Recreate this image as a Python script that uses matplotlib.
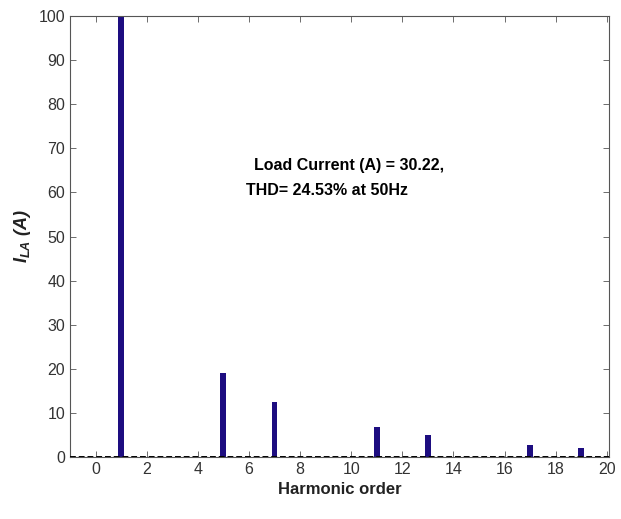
import matplotlib.pyplot as plt

orders = [1, 5, 7, 11, 13, 17, 19]
magnitudes = [100, 19, 12.5, 6.7, 5.0, 2.8, 2.1]
xticks = list(range(0, 21, 2))
yticks = list(range(0, 101, 10))

plt.rcParams['font.family'] = ['Liberation Sans', 'DejaVu Sans']
plt.rcParams['mathtext.fontset'] = 'custom'
plt.rcParams['mathtext.it'] = 'Liberation Sans:italic:bold'
plt.rcParams['mathtext.rm'] = 'Liberation Sans:italic:bold'

fig = plt.figure(figsize=(6.21, 5.19), dpi=100)
ax = fig.add_axes([0.1127, 0.1195, 0.8685, 0.8495])

ax.bar(orders, magnitudes, width=0.23, color='#1d0d80', zorder=2)
ax.axhline(0, color='black', linestyle=(0, (3, 1.5)), linewidth=1.4, zorder=3)

ax.set_xlim(-1, 20.1)
ax.set_ylim(0, 100)
ax.set_xticks(xticks)
ax.set_yticks(yticks)
ax.tick_params(direction='in', top=True, right=True, length=4, width=0.6,
               labelsize=11.5, labelcolor='#333333', color='#555555')
for s in ax.spines.values():
    s.set_color('#555555')
    s.set_linewidth(0.8)

ax.set_xlabel('Harmonic order', fontsize=12, fontweight='bold', color='#222222')
ax.set_ylabel(r'$I_{LA}$ (A)', fontsize=13, fontweight='bold',
              fontstyle='italic', color='#222222')

ax.text(6.2, 66.2, 'Load Current (A) = 30.22,', fontsize=11.5, fontweight='bold', va='center')
ax.text(5.9, 60.5, 'THD= 24.53% at 50Hz', fontsize=11.5, fontweight='bold', va='center')

fig.savefig('out.png', dpi=100)
